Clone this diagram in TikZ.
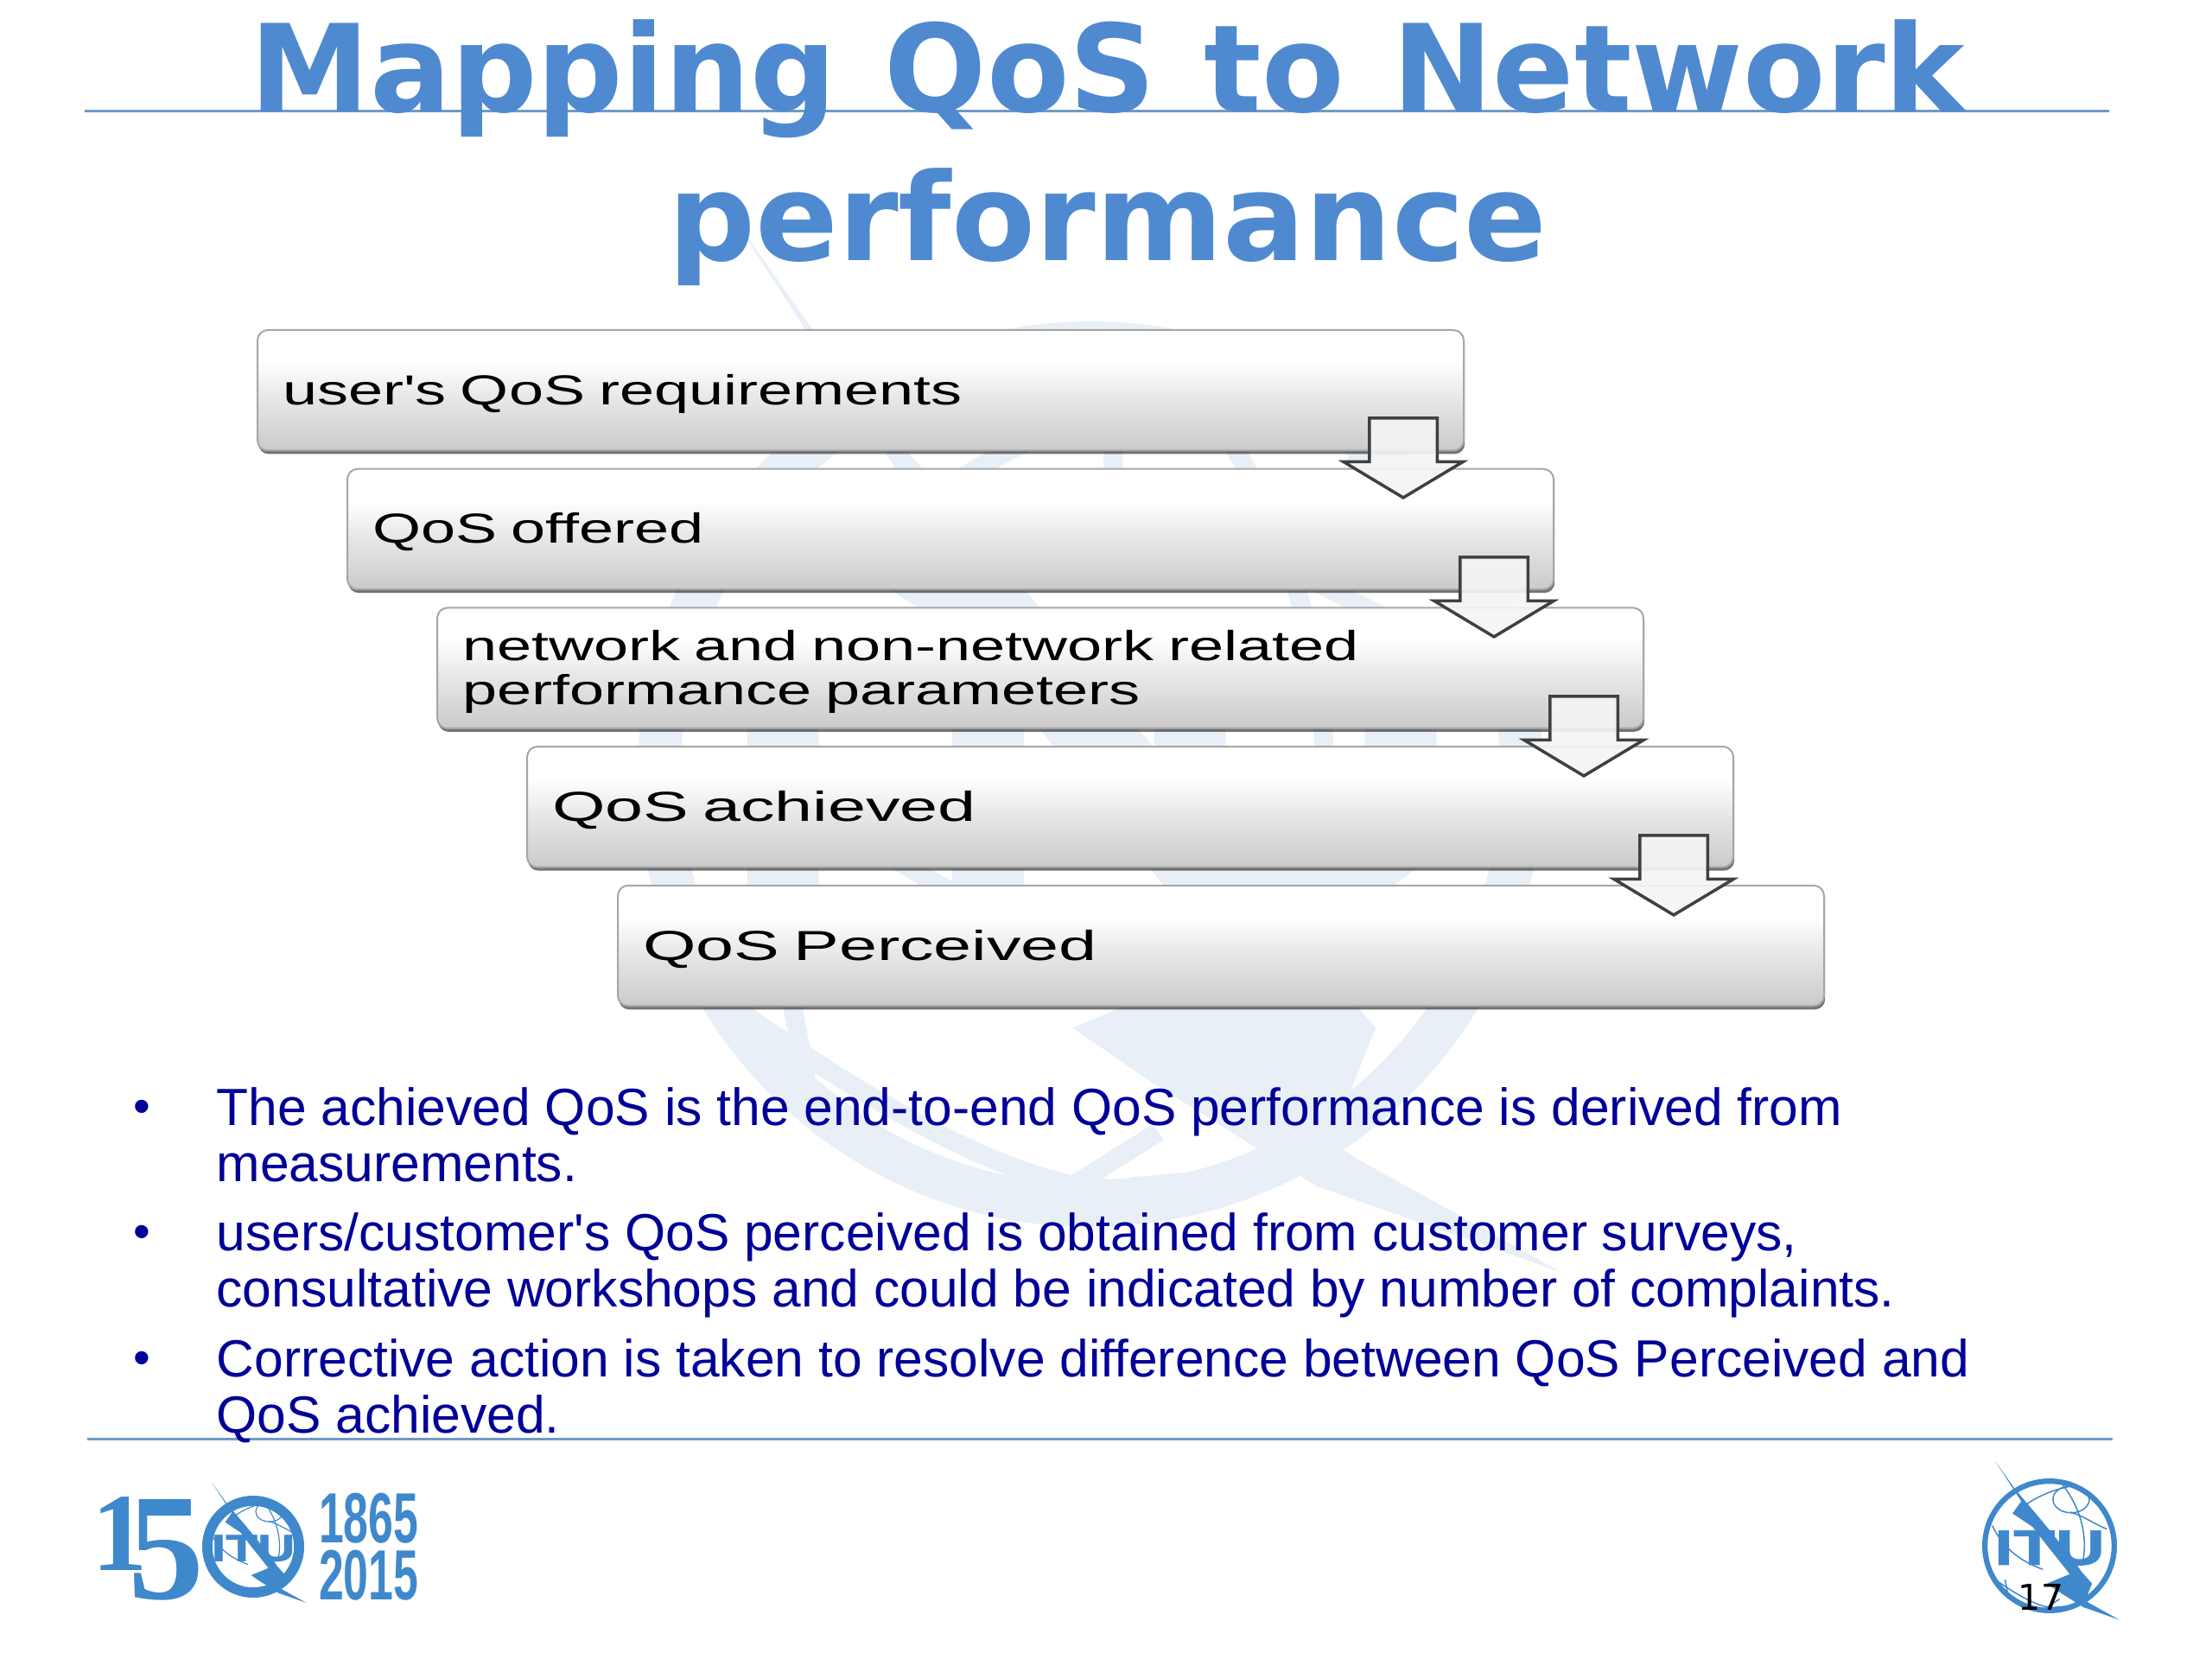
\documentclass[tikz,border=0pt]{standalone}
\usepackage{fontspec}
\setmainfont{Liberation Sans}
\newfontfamily\listfont{Liberation Sans}
\newfontfamily\titlefont[FakeStretch=.99,WordSpace=1.15]{DejaVu Sans}
\newfontfamily\titlewide[FakeStretch=1.005]{DejaVu Sans}
\newfontfamily\pagefont{DejaVu Sans}
\newfontfamily\stepfont[FakeStretch=1.485]{Liberation Sans}
\newfontfamily\stepwide[FakeStretch=1.63]{Liberation Sans}
\newfontfamily\itufont[FakeStretch=1.38,FakeBold=1.5]{Liberation Sans}
\newfontfamily\yearfont[FakeStretch=.63]{Liberation Sans}
\newfontfamily\numfont{Liberation Serif}
\usepackage{xcolor}
\usepackage{tikz}
\usetikzlibrary{shadows,shapes.arrows}

\definecolor{titleblue}{HTML}{4F8AD0}
\definecolor{rulecol}{HTML}{6F9AC8}
\definecolor{listblue}{HTML}{000099}
\definecolor{logoblue}{HTML}{3F88CC}
\definecolor{markblue}{HTML}{E8EFF7}
\definecolor{stepgrey}{HTML}{CACACA}
\definecolor{stepmid}{HTML}{E9E9E9}

\pgfdeclareverticalshading{stepfill}{100bp}{color(0bp)=(stepgrey); color(25bp)=(stepgrey); color(48bp)=(stepmid); color(62bp)=(white); color(100bp)=(white)}

\tikzset{
  stepbox/.style={anchor=north west, rounded corners=.12cm, draw=gray!70, line width=.02cm,
    shading=stepfill, minimum width=13.96cm, minimum height=1.395cm, text width=13.38cm,
    inner xsep=.29cm, inner ysep=0pt, align=left, text=black,
    font=\stepfont\fontsize{13.8}{14.5}\selectfont,
    execute at begin node={\rule[-.1cm]{0pt}{.53cm}},
    drop shadow={shadow xshift=.012cm, shadow yshift=-.04cm, fill=black, opacity=.55}},
  widebox/.style={stepbox, font=\stepwide\fontsize{13.8}{14.5}\selectfont},
  flowarrow/.style={single arrow, shape border rotate=270, anchor=tip, draw=black!75, line width=.035cm,
    fill=gray!8, fill opacity=.9, minimum height=.92cm, inner xsep=.375cm, inner ysep=0pt,
    single arrow head extend=.30cm, single arrow tip angle=118},
  listitem/.style={anchor=north west, inner sep=0pt, align=left, text=listblue,
    font=\listfont\fontsize{17.23}{18.5}\selectfont},
  listdot/.style={inner sep=0pt, text=listblue, font=\listfont\fontsize{16}{16}\selectfont},
  hrule/.style={rulecol, line width=.03cm},
  pics/itulogo/.style n args={3}{code={
    \path[fill=#1, even odd rule] (0,0) circle (1) (0,0) circle (#2);
    \draw[#1, line width=#3] (-.78,-.52) .. controls (-.45,-.75) and (-.1,-.95) .. (.1,-.91)
      .. controls (.25,-.9) and (.35,-.88) .. (.42,-.88);
    \draw[#1, line width=#3] (-.12,-.96) -- (.15,-.79);
    \draw[#1, line width=#3] (-.66,-.5) -- (-.62,-.72);
    \draw[#1, line width=#3] (.32,.69) ellipse (.27 and .2);
    \draw[#1, line width=#3] (-.5,.5) .. controls (-.2,.75) and (.1,.85) .. (.4,.9);
    \draw[#1, line width=#3] (.2,.9) .. controls (.5,.5) and (.55,.1) .. (.5,-.2);
    \draw[#1, line width=#3] (.3,.5) .. controls (.5,.45) and (.7,.3) .. (.85,.25);
    \draw[#1, line width=#3] (-.85,.3) .. controls (-.7,0) and (-.5,-.2) .. (-.1,-.35);
    \node[text=#1, inner sep=0pt, font=\itufont\bfseries\fontsize{21}{21}\selectfont] (-itu) at (0,-.03) {ITU};
    \path[fill=#1] (-.81,1.26) -- (-.52,.85) -- (-.13,.39) -- (.35,-.2) -- (.47,-.38)
      -- (.63,-.56) -- (.53,-.81) -- (.59,-.85) -- (1.04,-1.1) -- (.5,-.91) -- (.12,-.67) -- (-.04,-.56)
      -- (.3,-.42) -- (-.05,.02) -- (-.25,.28) -- (-.55,.48) -- (-.42,.66) -- cycle;
  }}
}

\begin{document}
\begin{tikzpicture}
      \useasboundingbox[fill=white] (0,0) rectangle (25.6,-19.2);

      % faint globe behind the slide
      \pic (mark) [scale=5.24, transform shape] at (12.62,-8.96) {itulogo={markblue}{.905}{.22cm}};

      \draw[hrule] (.98,-1.29) coordinate (t1) -- (24.41,-1.29) coordinate (t2);
      \draw[hrule] (1.01,-16.65) coordinate (b1) -- (24.45,-16.65) coordinate (b2);

      \node[anchor=north, inner sep=0pt, align=center, text=titleblue,
        font=\titlefont\bfseries\fontsize{40}{48.9}\selectfont] (title) at (12.82,-.22)
        {Mapping QoS to Network\\{\titlewide performance}};

      \node[stepbox] (req) at (2.97,-3.81) {user's QoS requirements};
      \node[stepbox] (off) at (4.01,-5.417) {QoS offered};
      \node[stepbox] (par) at (5.05,-7.024) {network and non-network related\\performance parameters};
      \node[widebox] (ach) at (6.09,-8.631) {QoS achieved};
      \node[widebox] (per) at (7.14,-10.238) {QoS Perceived};

      \node[flowarrow] (a1) at (16.24,-5.78) {};
      \node[flowarrow] (a2) at (17.29,-7.39) {};
      \node[flowarrow] (a3) at (18.33,-9.00) {};
      \node[flowarrow] (a4) at (19.37,-10.61) {};

      \node[listdot] (d1) at (1.645,-12.86) {•};
      \node[listitem] (i1) at (2.50,-12.575) {The achieved QoS is the end-to-end QoS performance is derived from\\measurements.};
      \node[listdot] (d2) at (1.645,-14.31) {•};
      \node[listitem] (i2) at (2.50,-14.025) {users/customer's QoS perceived is obtained from customer surveys,\\consultative workshops and could be indicated by number of complaints.};
      \node[listdot] (d3) at (1.645,-15.77) {•};
      \node[listitem] (i3) at (2.50,-15.485) {Corrective action is taken to resolve difference between QoS Perceived and\\QoS achieved.};

      % 150 years mark
      \node[anchor=base west, inner sep=0pt, text=logoblue, font=\numfont\bfseries\fontsize{36.6}{36.6}\selectfont] (one) at (1.06,-18.17) {1};
      \node[anchor=base west, inner sep=0pt, text=logoblue, font=\numfont\bfseries\fontsize{50}{50}\selectfont] (five) at (1.48,-18.50) {5};
      \pic (left) [scale=.59, transform shape] at (2.93,-17.90) {itulogo={logoblue}{.8}{.012cm}};
      \node[anchor=north east, inner sep=0pt, align=right, text=logoblue,
        font=\yearfont\bfseries\fontsize{23.4}{19}\selectfont] (years) at (4.85,-17.27) {1865\\2015};

      \pic (right) [scale=.78, transform shape] at (23.72,-17.89) {itulogo={logoblue}{.92}{.015cm}};
      \node[inner sep=0pt, font=\pagefont\fontsize{11.7}{11.7}\selectfont] (page) at (23.62,-18.48) {17};
    \end{tikzpicture}
\end{document}
